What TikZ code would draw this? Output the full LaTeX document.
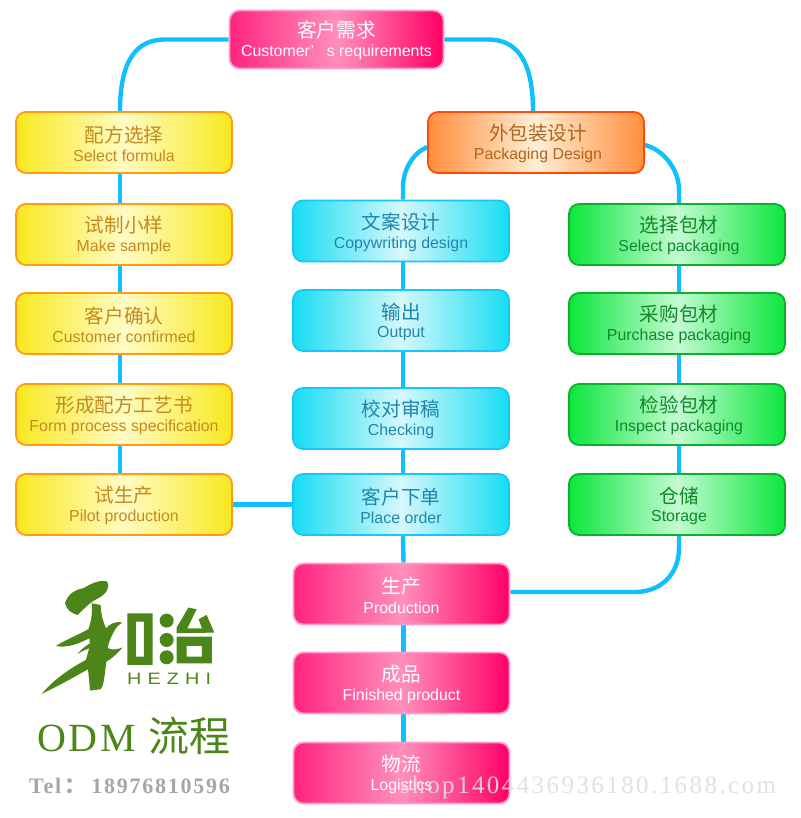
\documentclass[tikz,border=0pt]{standalone}
\usepackage{fontspec}
\usetikzlibrary{backgrounds}
\setmainfont{Liberation Sans}
\newfontfamily\cjk{Noto Sans CJK SC}
\newfontfamily\serifx{Liberation Serif}
\definecolor{linkblue}{HTML}{0FC0FF}
\definecolor{logogreen}{HTML}{4C8518}
\definecolor{yellowtext}{HTML}{C48A1E}
\definecolor{cyantext}{HTML}{1F86AC}
\definecolor{greentext}{HTML}{0E8A2A}
\definecolor{orangetext}{HTML}{B0651E}
\definecolor{pinkedge}{HTML}{FF9CCF}
\definecolor{pinkleft}{HTML}{FF2480}
\definecolor{pinkright}{HTML}{FF0066}
\definecolor{pinkmid}{HTML}{FF8FBC}
\definecolor{orangeedge}{HTML}{FF4A0A}
\definecolor{orangeside}{HTML}{FF8E3C}
\definecolor{orangemid}{HTML}{FFEFD6}
\definecolor{yellowside}{HTML}{F9E81E}
\definecolor{yellowmid}{HTML}{FFFBC4}
\definecolor{yellowedge}{HTML}{FF9A12}
\definecolor{cyanside}{HTML}{16DDF2}
\definecolor{cyanmid}{HTML}{D6F8FC}
\definecolor{cyanedge}{HTML}{18C6FF}
\definecolor{greenside}{HTML}{0CE63C}
\definecolor{greenmid}{HTML}{C4FBD2}
\definecolor{greenedge}{HTML}{0CB02C}
\tikzset{
  x=1pt,y=-1pt,
  flowbox/.style={minimum width=216pt,minimum height=61pt,rounded corners=10pt,line width=1.8pt,inner sep=0pt,align=center,anchor=center},
  yellowbox/.style={flowbox,draw=yellowedge,left color=yellowside,right color=yellowside,middle color=yellowmid,text=yellowtext},
  cyanbox/.style={flowbox,draw=cyanedge,left color=cyanside,right color=cyanside,middle color=cyanmid,text=cyantext},
  greenbox/.style={flowbox,draw=greenedge,left color=greenside,right color=greenside,middle color=greenmid,text=greentext},
  pinkbox/.style={flowbox,draw=pinkedge,left color=pinkleft,right color=pinkright,middle color=pinkmid,text=white},
  orangebox/.style={flowbox,draw=orangeedge,left color=orangeside,right color=orangeside,middle color=orangemid,text=orangetext},
  linkline/.style={draw=linkblue,line width=4.4pt},
}
\newcommand{\bx}[2]{\rule{0pt}{19pt}{\cjk\fontsize{19.6}{22}\selectfont #1}\\[5pt]{\fontsize{15.9}{17}\selectfont #2}}
\newcommand{\bxr}[2]{\rule{0pt}{19pt}\hspace*{4pt}{\cjk\fontsize{19.6}{22}\selectfont #1}\\[5pt]\hspace*{4pt}{\fontsize{15.9}{17}\selectfont #2}}
\begin{document}
\begin{tikzpicture}
\useasboundingbox (0,0) rectangle (800,818);

\node[pinkbox,minimum width=214pt,minimum height=58pt] (req) at (336.5,39.5) {\bx{客户需求}{Customer’\hspace{0.8em}s requirements}};
\node[orangebox] (pack) at (536,142.5) {\bxr{外包装设计}{Packaging Design}};

\node[yellowbox] (y1) at (124,142.5) {\bx{配方选择}{Select formula}};
\node[yellowbox] (y2) at (124,234.5) {\bx{试制小样}{Make sample}};
\node[yellowbox] (y3) at (124,323.5) {\bx{客户确认}{Customer confirmed}};
\node[yellowbox] (y4) at (124,414.5) {\bx{形成配方工艺书}{Form process specification}};
\node[yellowbox] (y5) at (124,504.5) {\bx{试生产}{Pilot production}};

\node[cyanbox] (c1) at (401,231) {\bx{文案设计}{Copywriting design}};
\node[cyanbox] (c2) at (401,320.5) {\bx{输出}{Output}};
\node[cyanbox] (c3) at (401,418.5) {\bx{校对审稿}{Checking}};
\node[cyanbox] (c4) at (401,504.5) {\bx{客户下单}{Place order}};

\node[greenbox] (g1) at (677,234.5) {\bxr{选择包材}{Select packaging}};
\node[greenbox] (g2) at (677,323.5) {\bxr{采购包材}{Purchase packaging}};
\node[greenbox] (g3) at (677,414.5) {\bxr{检验包材}{Inspect packaging}};
\node[greenbox] (g4) at (677,504.5) {\bxr{仓储}{Storage}};

\node[pinkbox] (p1) at (401.5,594) {\bx{生产}{Production}};
\node[pinkbox] (p2) at (401.5,683) {\bx{成品}{Finished product}};
\node[pinkbox] (p3) at (401.5,773) {\bx{物流}{Logistics}};

\begin{pgfonlayer}{background}
\fill[white] (0,0) rectangle (800,818);
\draw[linkline] (req.west) -- (165,39.5) .. controls (138,39.5) and (120,58) .. ([xshift=-4pt]y1.north);
\draw[linkline] (req.east) -- (488,39.5) .. controls (515,39.5) and (533,58) .. ([xshift=-3pt]pack.north);
\draw[linkline] ([yshift=-4.5pt]pack.west) .. controls (413,153) and (403,170) .. (403,187) -- ([xshift=2pt]c1.north);
\draw[linkline] ([yshift=-2.5pt]pack.east) .. controls (664,150) and (679,170) .. (679,190) -- ([xshift=2pt]g1.north);
\draw[linkline] ([xshift=2pt]g4.south) -- (679,548) .. controls (679,574) and (661,592) .. (635,592) -- ([yshift=2pt]p1.east);
\foreach \a/\b in {y1/y2,y2/y3,y3/y4,y4/y5}
  \draw[linkline] ([xshift=-4pt]\a.south) -- ([xshift=-4pt]\b.north);
\foreach \a/\b in {c1/c2,c2/c3,c3/c4,c4/p1,p1/p2,p2/p3}
  \draw[linkline] ([xshift=2pt]\a.south) -- ([xshift=2pt]\b.north);
\foreach \a/\b in {g1/g2,g2/g3,g3/g4}
  \draw[linkline] ([xshift=2pt]\a.south) -- ([xshift=2pt]\b.north);
\draw[linkline] (y5.east) -- (c4.west);
\end{pgfonlayer}

% logo, drawn in crop coordinates (3x) of the lower left corner
\begin{scope}[x=0.3333pt,y=-0.3333pt,shift={(0,1680)},logogreen,even odd rule]
\fill (195,130) .. controls (205,100) and (225,90) .. (250,85) .. controls (275,70) and (300,58) .. (322,65) .. controls (330,80) and (322,100) .. (295,115) .. controls (270,125) and (250,150) .. (232,165) .. controls (215,160) and (200,150) .. (195,130) -- cycle;
\fill (275,130) -- (302,135) .. controls (303,170) and (312,190) .. (318,205) .. controls (330,192) and (345,183) .. (367,188) .. controls (350,195) and (338,220) .. (328,245) .. controls (318,275) and (320,300) .. (316,330) .. controls (313,355) and (310,380) .. (302,388) -- (270,392) .. controls (268,365) and (266,345) .. (264,328) .. controls (225,350) and (175,378) .. (125,402) .. controls (160,360) and (210,325) .. (258,300) .. controls (262,290) and (262,280) .. (268,265) .. controls (255,270) and (245,274) .. (233,282) .. controls (243,268) and (255,260) .. (270,250) -- (268,235) .. controls (235,252) and (200,265) .. (168,258) .. controls (200,238) and (240,222) .. (265,208) .. controls (272,190) and (278,165) .. (275,130) -- cycle;
\fill (318,262) .. controls (335,272) and (350,270) .. (368,262) .. controls (350,284) and (330,300) .. (314,308) -- cycle;
\fill (382,160) rectangle (458,315) (408,185) rectangle (432,290);
\fill (500,182) circle[radius=21];
\fill (500,240) circle[radius=21];
\fill (500,292) circle[radius=21];
\fill (565,143) -- (590,148) -- (562,205) -- (606,205) -- (596,178) -- (620,165) -- (643,218) -- (530,220) -- (530,203) -- cycle;
\fill (530,230) rectangle (636,310) (560,258) rectangle (606,290);
\end{scope}
\node[logogreen,anchor=base west,inner sep=0pt,font=\fontsize{16.5}{18}\selectfont\addfontfeature{FakeStretch=1.2,LetterSpace=37}] (hz) at (127,684) {HEZHI};
\node[logogreen,anchor=base west,inner sep=0pt,font=\serifx\fontsize{40}{42}\selectfont\addfontfeature{LetterSpace=7}] (odm) at (37,751) {ODM};
\node[logogreen,anchor=base west,inner sep=0pt,font=\cjk\fontsize{41}{43}\selectfont] (lc) at (148,751) {流程};
\node[gray!70,anchor=base west,inner sep=0pt,font=\serifx\bfseries\fontsize{22}{24}\selectfont\addfontfeature{LetterSpace=8}] (tel) at (29,793) {Tel\hspace{3pt}{\cjk ：}\hspace{5pt}18976810596};
\node[black!13,opacity=.9,anchor=base west,inner sep=0pt,font=\serifx\fontsize{25}{27}\selectfont\addfontfeature{LetterSpace=9.7}] (wm) at (400,793) {shop1404436936180.1688.com};
\end{tikzpicture}
\end{document}
